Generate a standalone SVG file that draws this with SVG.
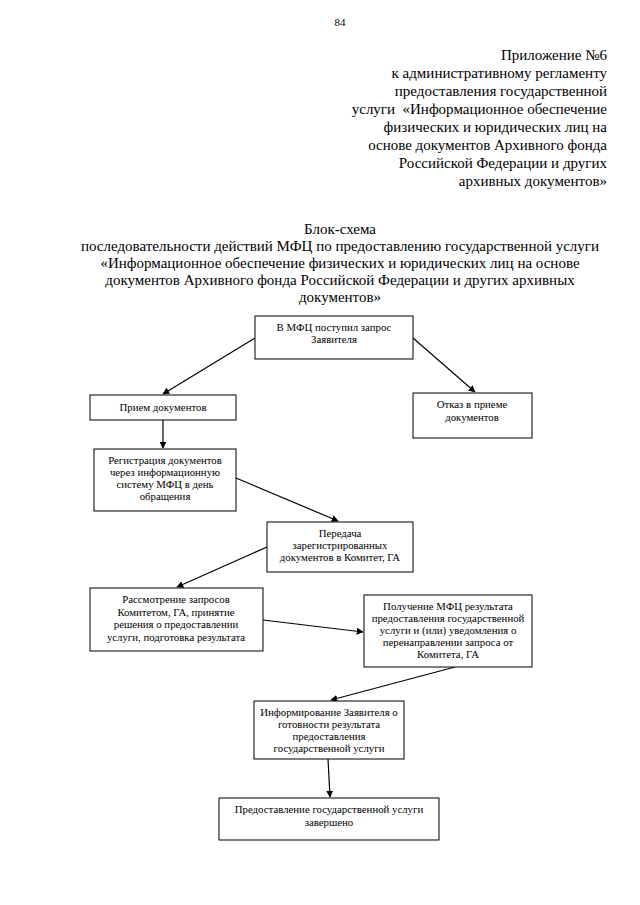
<svg xmlns="http://www.w3.org/2000/svg" width="640" height="905" viewBox="0 0 640 905" font-family="'Liberation Serif', 'Times New Roman', serif">
<defs>
<style>
.b{fill:#fff;stroke:#000;stroke-width:1}
.l{stroke:#000;stroke-width:1.2;fill:none;marker-end:url(#a)}
</style>
<marker id="a" viewBox="0 0 10 10" refX="9" refY="5" markerWidth="7" markerHeight="7" orient="auto" markerUnits="userSpaceOnUse">
<path d="M0,0 L10,5 L0,10 z" fill="#000"/>
</marker>
</defs>
<rect width="640" height="905" fill="#fff"/>
<g id="header" font-family="'Liberation Serif', serif" fill="#000">
<text x="340" y="26" text-anchor="middle" font-size="11">84</text>
<g font-size="15" text-anchor="end">
<text x="607" y="60">Приложение №6</text>
<text x="607" y="78">к административному регламенту</text>
<text x="607" y="96">предоставления государственной</text>
<text x="607" y="114" xml:space="preserve">услуги  «Информационное обеспечение</text>
<text x="607" y="132">физических и юридических лиц на</text>
<text x="607" y="150">основе документов Архивного фонда</text>
<text x="607" y="168">Российской Федерации и других</text>
<text x="607" y="186">архивных документов»</text>
</g>
<g font-size="15" text-anchor="middle">
<text x="340" y="234">Блок-схема</text>
<text x="340" y="251">последовательности действий МФЦ по предоставлению государственной услуги</text>
<text x="340" y="268">«Информационное обеспечение физических и юридических лиц на основе</text>
<text x="340" y="285">документов Архивного фонда Российской Федерации и других архивных</text>
<text x="340" y="302">документов»</text>
</g>
</g>
<g id="connectors">
<line class="l" x1="255" y1="338" x2="163" y2="394"/>
<line class="l" x1="413" y1="338" x2="475" y2="392"/>
<line class="l" x1="163" y1="420" x2="163" y2="448"/>
<line class="l" x1="236" y1="478" x2="338" y2="521"/>
<line class="l" x1="267" y1="547" x2="177" y2="587"/>
<line class="l" x1="263" y1="620" x2="363" y2="632"/>
<line class="l" x1="455" y1="667" x2="331" y2="700"/>
<line class="l" x1="328" y1="759" x2="330" y2="797"/>
</g>
<g id="nodes" font-family="'Liberation Serif', serif" font-size="10.8" text-anchor="middle" fill="#000">
<g id="n1">
<rect class="b" x="255" y="316" width="158" height="43"/>
<text x="334" y="331">В МФЦ поступил запрос</text>
<text x="334" y="343">Заявителя</text>
</g>
<g id="n2">
<rect class="b" x="90" y="395" width="146" height="25"/>
<text x="163" y="411">Прием документов</text>
</g>
<g id="n3">
<rect class="b" x="413" y="393" width="119" height="45"/>
<text x="472" y="408">Отказ в приеме</text>
<text x="472" y="421">документов</text>
</g>
<g id="n4">
<rect class="b" x="94" y="449" width="142" height="62"/>
<text x="165" y="464">Регистрация документов</text>
<text x="165" y="476">через информационную</text>
<text x="165" y="488">систему МФЦ в день</text>
<text x="165" y="500">обращения</text>
</g>
<g id="n5">
<rect class="b" x="267" y="522" width="146" height="50"/>
<text x="340" y="537">Передача</text>
<text x="340" y="549">зарегистрированных</text>
<text x="340" y="561">документов в Комитет, ГА</text>
</g>
<g id="n6">
<rect class="b" x="90" y="588" width="173" height="63"/>
<text x="176" y="603">Рассмотрение запросов</text>
<text x="176" y="615.5">Комитетом, ГА, принятие</text>
<text x="176" y="628">решения о предоставлении</text>
<text x="176" y="640.5">услуги, подготовка результата</text>
</g>
<g id="n7">
<rect class="b" x="364" y="595" width="168" height="72"/>
<text x="448" y="610">Получение МФЦ результата</text>
<text x="448" y="622">предоставления государственной</text>
<text x="448" y="634">услуги и (или) уведомления о</text>
<text x="448" y="646">перенаправлении запроса от</text>
<text x="448" y="658">Комитета, ГА</text>
</g>
<g id="n8">
<rect class="b" x="254" y="701" width="150" height="58"/>
<text x="329" y="716">Информирование Заявителя о</text>
<text x="329" y="728">готовности результата</text>
<text x="329" y="740">предоставления</text>
<text x="329" y="752">государственной услуги</text>
</g>
<g id="n9">
<rect class="b" x="219" y="798" width="220" height="42"/>
<text x="329" y="813">Предоставление государственной услуги</text>
<text x="329" y="826">завершено</text>
</g>
</g>
</svg>
